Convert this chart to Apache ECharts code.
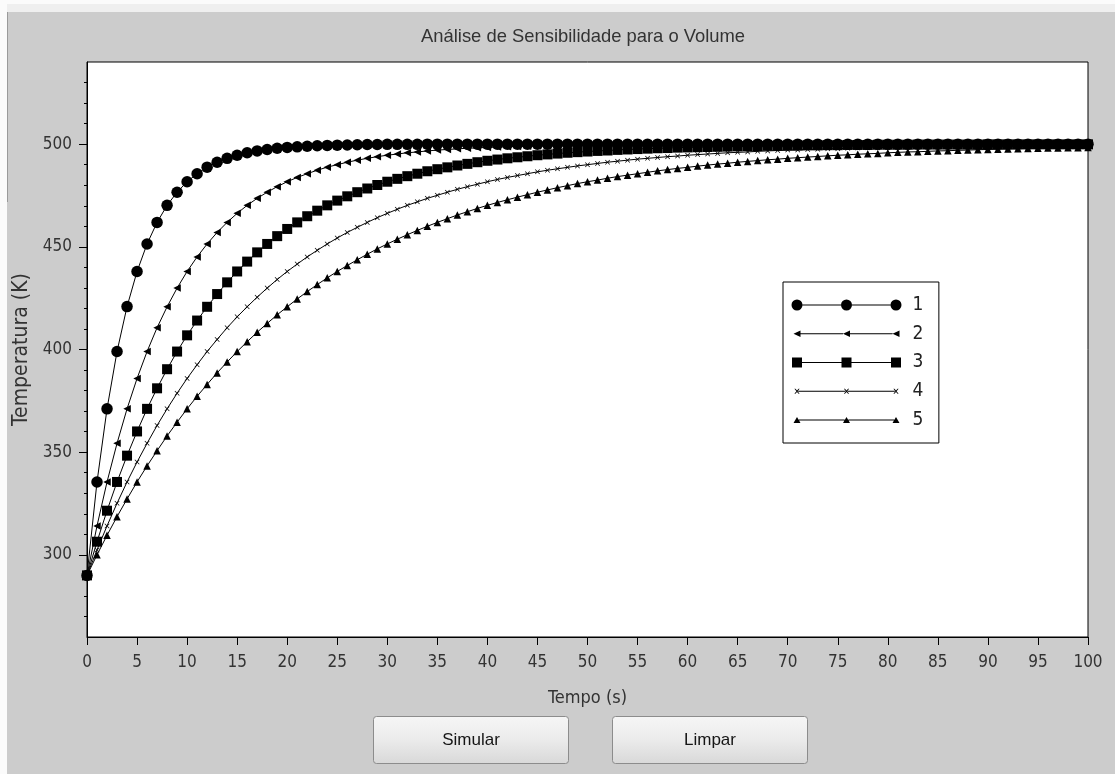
<!DOCTYPE html>
<html>
<head>
<meta charset="utf-8">
<style>html,body{margin:0;padding:0;background:#cccccc;}#c{width:1115px;height:774px;}</style>
<script src="https://cdn.jsdelivr.net/npm/echarts@6/dist/echarts.min.js"></script>
</head>
<body>
<div id="c"></div>
<script>
// ---- data ----
const tempo = [0,1,2,3,4,5,6,7,8,9,10,11,12,13,14,15,16,17,18,19,20,21,22,23,24,25,26,27,28,29,30,31,32,33,34,35,36,37,38,39,40,41,42,43,44,45,46,47,48,49,50,51,52,53,54,55,56,57,58,59,60,61,62,63,64,65,66,67,68,69,70,71,72,73,74,75,76,77,78,79,80,81,82,83,84,85,86,87,88,89,90,91,92,93,94,95,96,97,98,99,100];
const temp1 = [290.0,335.5,371.1,399.0,420.9,438.0,451.4,461.9,470.2,476.6,
481.7,485.6,488.8,491.2,493.1,494.6,495.8,496.7,497.4,498.0,
498.4,498.7,499.0,499.2,499.4,499.5,499.6,499.7,499.8,499.8,
499.9,499.9,499.9,499.9,500,500,500,500,500,500,
500,500,500,500,500,500,500,500,500,500,
500,500,500,500,500,500,500,500,500,500,
500,500,500,500,500,500,500,500,500,500,
500,500,500,500,500,500,500,500,500,500,
500,500,500,500,500,500,500,500,500,500,
500,500,500,500,500,500,500,500,500,500,
500];
const temp2 = [290.0,314.1,335.5,354.3,371.1,385.9,399.0,410.6,420.8,429.9,
438.0,445.1,451.4,457.0,461.9,466.3,470.2,473.6,476.6,479.3,
481.7,483.8,485.6,487.3,488.8,490.0,491.2,492.2,493.1,493.9,
494.6,495.2,495.8,496.2,496.7,497.1,497.4,497.7,498.0,498.2,
498.4,498.6,498.7,498.9,499.0,499.1,499.2,499.3,499.4,499.5,
499.5,499.6,499.6,499.7,499.7,499.7,499.8,499.8,499.8,499.8,
499.9,499.9,499.9,499.9,499.9,499.9,499.9,499.9,500,500,
500,500,500,500,500,500,500,500,500,500,
500,500,500,500,500,500,500,500,500,500,
500,500,500,500,500,500,500,500,500,500,
500];
const temp3 = [290.0,306.4,321.5,335.5,348.3,360.1,371.1,381.1,390.4,399.0,
406.9,414.1,420.8,427.0,432.7,438.0,442.8,447.3,451.4,455.2,
458.7,461.9,464.9,467.6,470.2,472.5,474.6,476.6,478.4,480.1,
481.7,483.1,484.4,485.6,486.8,487.8,488.7,489.6,490.4,491.2,
491.9,492.5,493.1,493.6,494.1,494.6,495.0,495.4,495.8,496.1,
496.4,496.7,496.9,497.2,497.4,497.6,497.8,498.0,498.1,498.3,
498.4,498.5,498.6,498.7,498.8,498.9,499.0,499.1,499.2,499.2,
499.3,499.3,499.4,499.4,499.5,499.5,499.6,499.6,499.6,499.7,
499.7,499.7,499.7,499.8,499.8,499.8,499.8,499.8,499.8,499.8,
499.9,499.9,499.9,499.9,499.9,499.9,499.9,499.9,499.9,499.9,
499.9];
const temp4 = [290.0,302.4,314.1,325.1,335.5,345.2,354.3,363.0,371.1,378.7,
385.9,392.6,399.0,404.9,410.6,415.9,420.8,425.5,429.9,434.1,
438.0,441.6,445.1,448.3,451.4,454.3,457.0,459.5,461.9,464.2,
466.3,468.3,470.2,471.9,473.6,475.1,476.6,478.0,479.3,480.5,
481.7,482.8,483.8,484.7,485.6,486.5,487.3,488.0,488.7,489.4,
490.0,490.6,491.2,491.7,492.2,492.7,493.1,493.5,493.9,494.2,
494.6,494.9,495.2,495.5,495.8,496.0,496.2,496.5,496.7,496.9,
497.1,497.2,497.4,497.5,497.7,497.8,498.0,498.1,498.2,498.3,
498.4,498.5,498.6,498.7,498.7,498.8,498.9,499.0,499.0,499.1,
499.1,499.2,499.2,499.3,499.3,499.4,499.4,499.4,499.5,499.5,
499.5];
const temp5 = [290.0,300.0,309.5,318.6,327.2,335.5,343.3,350.7,357.9,364.6,
371.1,377.2,383.0,388.6,393.9,399.0,403.8,408.4,412.7,416.9,
420.8,424.6,428.2,431.6,434.9,438.0,440.9,443.7,446.4,449.0,
451.4,453.7,455.9,458.0,460.0,461.9,463.7,465.5,467.1,468.7,
470.2,471.6,472.9,474.2,475.4,476.6,477.7,478.8,479.8,480.8,
481.7,482.5,483.4,484.2,484.9,485.6,486.3,487.0,487.6,488.2,
488.7,489.3,489.8,490.3,490.7,491.2,491.6,492.0,492.4,492.7,
493.1,493.4,493.7,494.0,494.3,494.6,494.8,495.1,495.3,495.5,
495.8,496.0,496.2,496.3,496.5,496.7,496.8,497.0,497.1,497.3,
497.4,497.5,497.6,497.7,497.9,498.0,498.1,498.1,498.2,498.3,
498.4];
const seriesNames = ['1','2','3','4','5'];
const yMajorTicks = [300,350,400,450,500];
const yMinorTicks = [270,280,290,310,320,330,340,360,370,380,390,410,420,430,440,460,470,480,490,510,520,530];
const titleText = 'Análise de Sensibilidade para o Volume';
const xName = 'Tempo (s)';
const yName = 'Temperatura (K)';
const buttonLabels = ['Simular','Limpar'];

// ---- styling helpers ----
const NARROW = '"Liberation Sans Narrow","DejaVu Sans Condensed","Arial Narrow",sans-serif';
const REG = '"Liberation Sans",Arial,sans-serif';
const CX = [5.5, 55, 104.5];
function seg(a,b){return 'M'+a+',5.5 L'+b+',5.5 L'+b+',6.5 L'+a+',6.5 Z ';}
function legendIcon(marker, half){
  let p = 'path://M0,0 L0,0 M110,12 L110,12 ';
  CX.forEach(function(c,i){ p += marker(c); if(i<2) p += seg(c+half, CX[i+1]-half); });
  return p;
}
const mCircle = c => 'M'+(c-5.5)+',6 A5.5,5.5 0 1,1 '+(c+5.5)+',6 A5.5,5.5 0 1,1 '+(c-5.5)+',6 Z ';
const mLeftTri = c => 'M'+(c-3.5)+',6 L'+(c+3.5)+',2.8 L'+(c+3.5)+',9.2 Z ';
const mSquare = c => 'M'+(c-5)+',1 L'+(c+5)+',1 L'+(c+5)+',11 L'+(c-5)+',11 Z ';
const mX = c => 'M'+(c-2.6)+',3.4 L'+(c-1.6)+',3.4 L'+c+',5.2 L'+(c+1.6)+',3.4 L'+(c+2.6)+',3.4 L'+(c+0.6)+',6 L'+(c+2.6)+',8.6 L'+(c+1.6)+',8.6 L'+c+',6.8 L'+(c-1.6)+',8.6 L'+(c-2.6)+',8.6 L'+(c-0.6)+',6 Z ';
const mUpTri = c => 'M'+(c-3.5)+',9 L'+c+',3 L'+(c+3.5)+',9 Z ';
const icons = [legendIcon(mCircle,5.5), legendIcon(mLeftTri,3.5), legendIcon(mSquare,5), legendIcon(mX,1.2), legendIcon(mUpTri,1.8)];
const xSym = 'path://M0,1 L1,0 L5,4 L9,0 L10,1 L6,5 L10,9 L9,10 L5,6 L1,10 L0,9 L4,5 Z';
const symbols = [
  {symbol:'circle', size:11.5, rotate:0},
  {symbol:'triangle', size:[7.5,7.5], rotate:90},
  {symbol:'rect', size:10, rotate:0},
  {symbol:xSym, size:5, rotate:0},
  {symbol:'triangle', size:[7.5,7.5], rotate:0}
];
const allTemps = [temp1,temp2,temp3,temp4,temp5];

const chart = echarts.init(document.getElementById('c'), null, {renderer:'canvas'});
const btnFill = () => new echarts.graphic.LinearGradient(0,0,0,1,[{offset:0,color:'#f6f6f6'},{offset:0.5,color:'#ebebeb'},{offset:1,color:'#d8d8d8'}]);
function button(x, label){
  return {type:'group', left:x, top:716, children:[
    {type:'rect', shape:{x:0,y:0,width:195,height:47,r:3}, style:{fill:btnFill(), stroke:'#8c8c8c', lineWidth:1}},
    {type:'text', x:97.5, y:23.5, style:{text:label, font:'17px '+REG, fill:'#151515', align:'center', verticalAlign:'middle'}}
  ]};
}
const option = {
  backgroundColor:'#cccccc',
  animation:false,
  title:{text:titleText, left:421, top:28, padding:0, textStyle:{fontFamily:REG, fontSize:18.4, fontWeight:'normal', color:'#333'}},
  grid:{left:87, right:27, top:62, bottom:137, show:true, backgroundColor:'#ffffff', borderColor:'#000', borderWidth:1, containLabel:false},
  legend:{
    orient:'vertical', left:783, top:282, selectedMode:false,
    backgroundColor:'#ffffff', borderColor:'#000', borderWidth:1, borderRadius:0,
    padding:[13.5,15.5,13.5,8.5], itemGap:9.75, itemWidth:110, itemHeight:12,
    itemStyle:{borderWidth:0},
    textStyle:{fontFamily:NARROW, fontSize:19, lineHeight:19, color:'#222', padding:[0,0,0,6]},
    data: seriesNames.map((n,i)=>({name:n, icon:icons[i]}))
  },
  xAxis:{type:'value', min:0, max:100, interval:5,
    name:xName, nameLocation:'middle', nameGap:52, nameTextStyle:{fontFamily:NARROW, fontSize:18, color:'#333'},
    axisLine:{show:true, lineStyle:{color:'#000', width:1}},
    axisTick:{show:true, length:8, lineStyle:{color:'#000'}},
    axisLabel:{fontFamily:NARROW, fontSize:17, color:'#333', margin:17},
    splitLine:{show:false}},
  yAxis:[
    {type:'value', min:260, max:540, position:'left',
      name:yName, nameLocation:'middle', nameGap:53, nameTextStyle:{fontFamily:NARROW, fontSize:21, color:'#333'},
      axisLine:{show:true, lineStyle:{color:'#000', width:1}},
      axisTick:{show:true, length:8, customValues:yMajorTicks, lineStyle:{color:'#000'}},
      axisLabel:{fontFamily:NARROW, fontSize:17, color:'#333', margin:15, customValues:yMajorTicks},
      splitLine:{show:false}},
    {type:'value', min:260, max:540, position:'left', offset:0,
      axisLine:{show:false},
      axisTick:{show:true, length:3, customValues:yMinorTicks, lineStyle:{color:'#000'}},
      axisLabel:{show:false, customValues:yMinorTicks},
      splitLine:{show:false}}
  ],
  graphic:[
    {type:'rect', left:0, top:0, z:-10, shape:{width:1115,height:12}, style:{fill:'#efefef'}},
    {type:'rect', left:0, top:0, z:-10, shape:{width:1115,height:4}, style:{fill:'#fbfbfb'}},
    {type:'rect', left:0, top:0, z:-10, shape:{width:7,height:774}, style:{fill:'#fbfbfb'}},
    {type:'line', z:-9, shape:{x1:7.5,y1:12,x2:7.5,y2:202}, style:{stroke:'#9a9a9a', lineWidth:1}},
    button(373, buttonLabels[0]),
    button(612, buttonLabels[1])
  ],
  series: seriesNames.map((n,i)=>({
    type:'line', name:n, yAxisIndex:0,
    data: tempo.map((t,j)=>[t, allTemps[i][j]]),
    symbol:symbols[i].symbol, symbolSize:symbols[i].size, symbolRotate:symbols[i].rotate,
    showSymbol:true, showAllSymbol:true, silent:true,
    lineStyle:{color:'#000', width:1},
    itemStyle:{color:'#000', borderWidth:0},
    emphasis:{disabled:true}
  }))
};
chart.setOption(option);
</script>
</body>
</html>
